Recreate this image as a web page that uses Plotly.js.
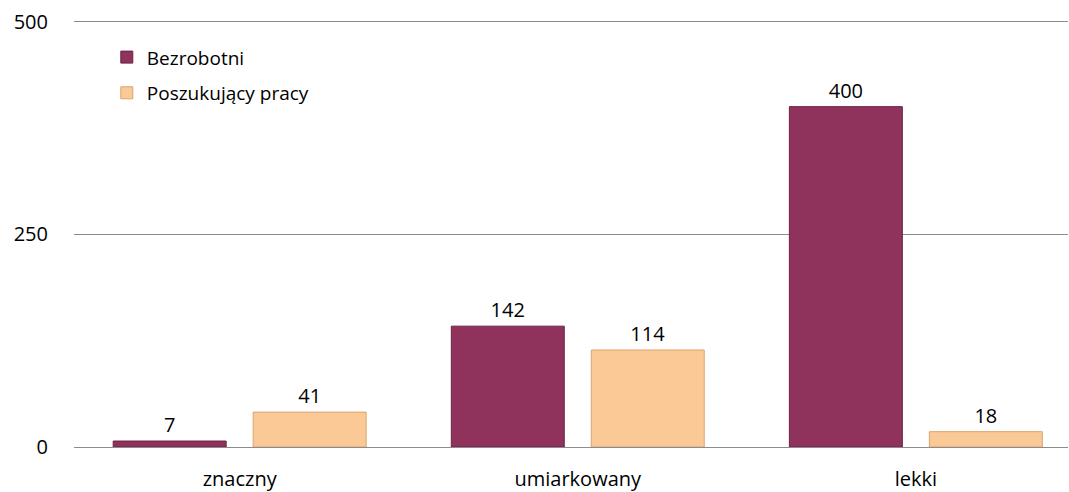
<!DOCTYPE html>
<html>
<head>
<meta charset="utf-8">
<script src="https://cdn.plot.ly/plotly-3.0.1.min.js"></script>
<style>
  html, body { margin: 0; padding: 0; background: #fff; }
  #plot { width: 1069px; height: 492px; }
</style>
</head>
<body>
<div id="plot"></div>
<script>
// Categories and values
let categories = ['znaczny', 'umiarkowany', 'lekki'];
let bezrobotni = [7, 142, 400];
let poszukujacy = [41, 114, 18];
let yTicks = [0, 250, 500];

let font = '"Open Sans", "Noto Sans", sans-serif';

let trace1 = {
  x: categories,
  y: bezrobotni,
  text: bezrobotni.map(String),
  name: 'Bezrobotni',
  type: 'bar',
  textposition: 'outside',
  cliponaxis: false,
  legendgroup: 'a',
  textfont: { color: '#000', size: 20 },
  marker: {
    color: '#8f325c',
    line: { color: '#6e2245', width: 1 }
  }
};

let trace2 = {
  x: categories,
  y: poszukujacy,
  text: poszukujacy.map(String),
  name: 'Poszukujący pracy',
  type: 'bar',
  textposition: 'outside',
  cliponaxis: false,
  legendgroup: 'b',
  textfont: { color: '#000', size: 20 },
  marker: {
    color: '#fbc995',
    line: { color: '#d9a36e', width: 1 }
  }
};

let layout = {
  width: 1069,
  height: 492,
  margin: { l: 74, r: 1, t: 19, b: 45 },
  paper_bgcolor: '#fff',
  plot_bgcolor: '#fff',
  font: { family: font, size: 20, color: '#000' },
  barmode: 'group',
  bargap: 0.172,
  bargroupgap: 0.193,
  showlegend: true,
  legend: {
    x: 0.033, y: 0.955,
    xanchor: 'left', yanchor: 'top',
    bgcolor: 'rgba(0,0,0,0)',
    font: { family: font, size: 19, color: '#000' },
    traceorder: 'grouped',
    tracegroupgap: 8,
    itemwidth: 30
  },
  xaxis: {
    type: 'category',
    range: [-0.49, 2.45],
    showgrid: false,
    showline: false,
    zeroline: false,
    ticks: '',
    tickfont: { family: font, size: 20, color: '#000' },
    ticklabelstandoff: 18
  },
  yaxis: {
    range: [0, 503],
    tickvals: yTicks,
    ticktext: yTicks.map(String),
    showgrid: true,
    gridcolor: '#8c8c8c',
    gridwidth: 1,
    zeroline: true,
    zerolinecolor: '#8c8c8c',
    zerolinewidth: 1,
    showline: false,
    ticks: '',
    tickfont: { family: font, size: 20, color: '#000' },
    ticklabelstandoff: 25
  }
};

Plotly.newPlot('plot', [trace1, trace2], layout, { displayModeBar: false, staticPlot: true });
</script>
</body>
</html>
